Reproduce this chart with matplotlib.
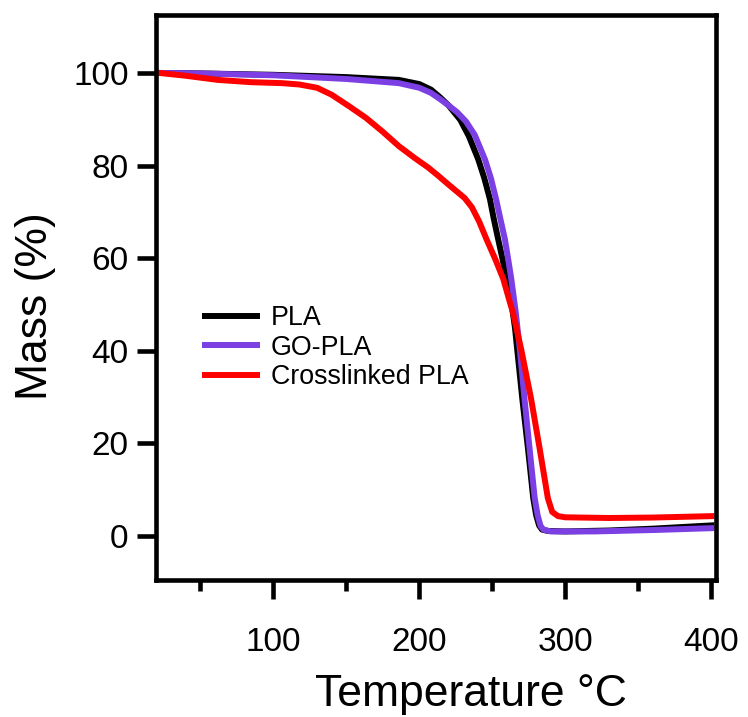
import numpy as np
import matplotlib
matplotlib.use('Agg')
import matplotlib.pyplot as plt
from matplotlib.ticker import MultipleLocator

plt.rcParams['font.family'] = ['Liberation Sans', 'DejaVu Sans']

# TGA curves
temp_pla = [22, 50, 100, 150, 186, 200, 208, 214, 220, 228, 234, 240.4, 244.5, 248.4, 251, 254, 257,
            259.7, 263, 265.5, 267, 270.5, 274.4, 278, 280, 282, 284, 288, 300, 330, 360, 400]
mass_pla = [100, 99.9, 99.6, 99.1, 98.5, 97.6, 96.4, 94.8, 93.0, 89.9, 86.3, 81.3, 77.3, 72.7, 68.5, 64.1, 59.8,
            55.5, 50.5, 45.0, 40.4, 29.7, 18.9, 8.2, 4.5, 2.3, 1.4, 1.1, 1.0, 1.2, 1.6, 2.3]

temp_go = [22, 50, 100, 150, 186, 200, 208, 214, 220, 226, 232, 238, 245, 249, 252.6, 255.5, 258.6,
           261, 263, 266, 268.8, 272, 275.5, 279, 281, 283, 285, 290, 320, 360, 400]
mass_go = [100, 99.9, 99.5, 98.7, 97.8, 96.8, 95.7, 94.4, 93.0, 91.5, 89.5, 86.6, 81.3, 77.3, 72.7, 68.5, 64.1,
           59.5, 55.5, 48.4, 40.4, 29.7, 18.9, 8.2, 4.5, 2.2, 1.4, 1.0, 1.0, 1.3, 1.7]

temp_xl = [22, 40, 62, 85, 106, 118, 130, 140, 152, 163.5, 175, 186, 197, 206, 213, 220, 231, 236, 241,
           246, 252, 257.5, 262, 264, 269.7, 276.5, 282.4, 288, 291, 295, 300, 330, 360, 400]
mass_xl = [100, 99.4, 98.5, 98.0, 97.8, 97.5, 96.8, 95.3, 92.8, 90.3, 87.3, 84.2, 81.6, 79.6, 77.8, 75.9, 73.0, 71.0, 67.9,
           64.1, 59.8, 55.5, 50.5, 48.4, 40.4, 29.7, 18.9, 8.2, 5.2, 4.3, 4.05, 3.9, 4.0, 4.3]

fig = plt.figure(figsize=(7.48, 7.17), dpi=100)
ax = fig.add_axes([0.209, 0.191, 0.748, 0.788])

ax.plot(temp_pla, mass_pla, color='black', lw=4.3, label='PLA')
ax.plot(temp_go, mass_go, color='#7b3fe4', lw=4.3, label='GO-PLA')
ax.plot(temp_xl, mass_xl, color='#ff0000', lw=4.3, label='Crosslinked PLA')

ax.set_xlim(20, 403)
ax.set_ylim(-9.5, 112.5)
ax.xaxis.set_major_locator(MultipleLocator(100))
ax.xaxis.set_minor_locator(MultipleLocator(50))
ax.yaxis.set_major_locator(MultipleLocator(20))

for s in ax.spines.values():
    s.set_linewidth(3.3)
ax.tick_params(which='major', direction='out', length=14, width=3.3, labelsize=24)
ax.tick_params(axis='y', pad=6)
ax.tick_params(axis='x', pad=20)
ax.tick_params(which='minor', direction='out', length=8, width=3.3)

ax.set_xlabel('Temperature \u00b0C', fontsize=32)
ax.set_ylabel('Mass (%)', fontsize=32)
ax.xaxis.set_label_coords(0.5625, -0.166)
ax.yaxis.set_label_coords(-0.18, 0.485)

ax.legend(loc='upper left', bbox_to_anchor=(0.068, 0.505), frameon=False, fontsize=19.3,
          handlelength=1.95, handletextpad=0.5, labelspacing=0.12, borderaxespad=0)

plt.savefig('out.png', dpi=100)
